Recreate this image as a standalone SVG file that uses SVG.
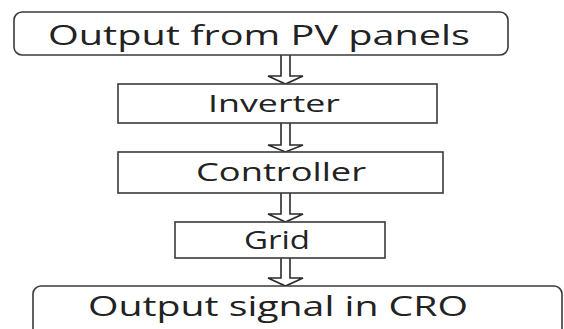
<svg xmlns="http://www.w3.org/2000/svg" width="564" height="329" viewBox="0 0 564 329">
<style>
.box{fill:#fff;stroke:#3a3a3a;stroke-width:1.6}
.lbl{font-family:"Open Sans","DejaVu Sans",sans-serif;fill:#222;text-anchor:middle}
.arr{fill:#fff;stroke:#2a2a2a;stroke-width:1.6;stroke-linejoin:miter}
</style>
<rect width="564" height="329" fill="#fff"/>
<g id="connectors">
<path class="arr" d="M281,55 V76 H268 L285.5,84 L303,76 H290 V55"/>
<path class="arr" d="M281,123 V145 H268 L285.5,152 L303,145 H290 V123"/>
<path class="arr" d="M281,193 V214 H268 L285.5,222 L303,214 H290 V193"/>
<path class="arr" d="M281,258 V278 H268 L285.5,286 L303,278 H290 V258"/>
</g>
<g id="node-pv">
<rect class="box" x="14" y="12" width="494" height="43" rx="8"/>
<text class="lbl" x="259" y="45" font-size="28" textLength="422" lengthAdjust="spacingAndGlyphs">Output from PV panels</text>
</g>
<g id="node-inverter">
<rect class="box" x="118" y="84" width="319" height="39"/>
<text class="lbl" x="274" y="112" font-size="24" textLength="132" lengthAdjust="spacingAndGlyphs">Inverter</text>
</g>
<g id="node-controller">
<rect class="box" x="118" y="152" width="325" height="41"/>
<text class="lbl" x="281" y="181" font-size="26" textLength="170" lengthAdjust="spacingAndGlyphs">Controller</text>
</g>
<g id="node-grid">
<rect class="box" x="175" y="222" width="210" height="36"/>
<text class="lbl" x="277" y="249" font-size="25" textLength="66" lengthAdjust="spacingAndGlyphs">Grid</text>
</g>
<g id="node-cro">
<rect class="box" x="33" y="286" width="529" height="52" rx="8"/>
<text class="lbl" x="278" y="316" font-size="28" textLength="380" lengthAdjust="spacingAndGlyphs">Output signal in CRO</text>
</g>
</svg>
